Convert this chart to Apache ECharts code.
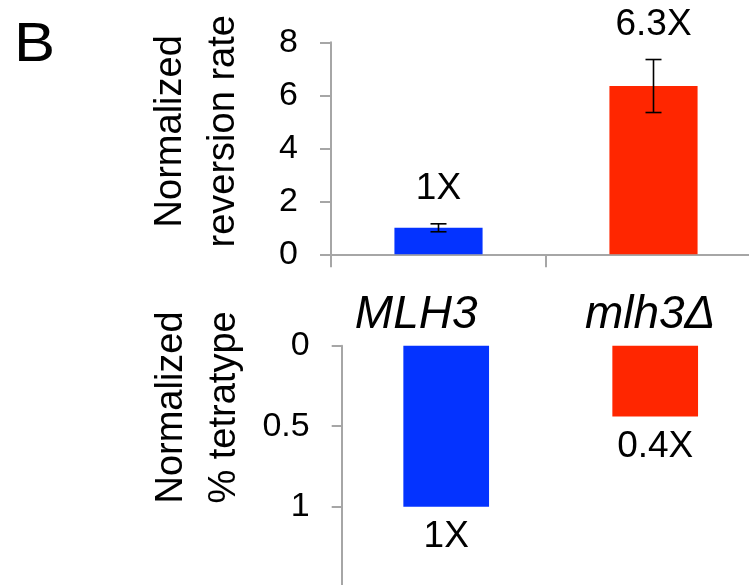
<!DOCTYPE html>
<html>
<head>
<meta charset="utf-8">
<script src="https://cdn.jsdelivr.net/npm/echarts@6/dist/echarts.min.js"></script>
<style>html,body{margin:0;padding:0;background:#fff;}#c{width:749px;height:585px;}</style>
</head>
<body>
<div id="c"></div>
<script>
const categories = ['MLH3', 'mlh3\u0394'];
const reversionRate = [1.0, 6.35];
const reversionErr = [0.15, 1.0];
const reversionLabels = ['1X', '6.3X'];
const tetratype = [1.0, 0.44];
const tetratypeLabels = ['1X', '0.4X'];
const topAxis = { min: 0, max: 8, interval: 2 };
const bottomAxis = { min: 0, max: 1.5, interval: 0.5 };

const FONT = "'Liberation Sans', Arial, sans-serif";
const AXIS_COLOR = '#a6a6a6';
const BLUE = '#0433ff';
const RED = '#ff2600';
const catPad = [60, 10];

const chart = echarts.init(document.getElementById('c'), null, { renderer: 'canvas' });

chart.setOption({
  animation: false,
  backgroundColor: '#fff',
  textStyle: { fontFamily: FONT },
  graphic: [{
    type: 'text', x: 14, y: 18, scaleX: 1.1,
    style: { text: 'B', fontSize: 56, fontFamily: FONT, fill: '#000' }
  }],
  grid: [
    { left: 331, top: 42.3, width: 430, height: 212, containLabel: false, outerBoundsMode: 'none' },
    { left: 341.7, top: 345.7, width: 418, height: 241.5, containLabel: false, outerBoundsMode: 'none' }
  ],
  xAxis: [
    {
      gridIndex: 0, type: 'category', data: categories,
      axisLine: { show: true, lineStyle: { color: AXIS_COLOR, width: 2 } },
      axisTick: { show: true, length: 13, lineStyle: { color: AXIS_COLOR, width: 2 } },
      axisLabel: { show: false }, splitLine: { show: false }
    },
    {
      gridIndex: 1, type: 'category', data: categories, position: 'top',
      axisLine: { show: false }, axisTick: { show: false }, splitLine: { show: false },
      axisLabel: {
        show: true, margin: 6,
        formatter: function (v, i) { return '{c' + i + '|' + v + '}'; },
        rich: {
          c0: { fontSize: 46, fontStyle: 'italic', fontFamily: FONT, color: '#000', lineHeight: 48, padding: [0, catPad[0], 0, 0] },
          c1: { fontSize: 46, fontStyle: 'italic', fontFamily: FONT, color: '#000', lineHeight: 48, padding: [0, catPad[1], 0, 0] }
        }
      }
    }
  ],
  yAxis: [
    {
      gridIndex: 0, type: 'value', min: topAxis.min, max: topAxis.max, interval: topAxis.interval,
      name: 'Normalized\nreversion rate', nameLocation: 'middle', nameRotate: 90, nameGap: 81,
      nameTextStyle: { fontSize: 38, fontFamily: FONT, color: '#000', lineHeight: 53, padding: [0, 0, 0, 34] },
      axisLine: { show: true, lineStyle: { color: AXIS_COLOR, width: 2 } },
      axisTick: { show: true, length: 11, lineStyle: { color: AXIS_COLOR, width: 2 } },
      axisLabel: { fontSize: 34, fontFamily: FONT, color: '#000', margin: 33 },
      splitLine: { show: false }
    },
    {
      gridIndex: 1, type: 'value', inverse: true, min: bottomAxis.min, max: bottomAxis.max, interval: bottomAxis.interval,
      name: 'Normalized\n% tetratype', nameLocation: 'middle', nameRotate: 90, nameGap: 91,
      nameTextStyle: { fontSize: 38, fontFamily: FONT, color: '#000', lineHeight: 53, padding: [0, 0, 0, 118] },
      axisLine: { show: true, lineStyle: { color: AXIS_COLOR, width: 2 } },
      axisTick: { show: true, length: 10, lineStyle: { color: AXIS_COLOR, width: 2 } },
      axisLabel: { fontSize: 34, fontFamily: FONT, color: '#000', margin: 32, showMaxLabel: false },
      splitLine: { show: false }
    }
  ],
  series: [
    {
      type: 'bar', xAxisIndex: 0, yAxisIndex: 0, barWidth: '41%',
      data: reversionRate.map((v, i) => ({ value: v, itemStyle: { color: i === 0 ? BLUE : RED } }))
    },
    {
      type: 'custom', xAxisIndex: 0, yAxisIndex: 0, z: 5,
      data: reversionRate.map((v, i) => [i, v, reversionErr[i]]),
      renderItem: function (params, api) {
        const i = api.value(0), v = api.value(1), e = api.value(2);
        const hi = api.coord([i, v + e]);
        const lo = api.coord([i, v - e]);
        const hw = 8;
        const ls = { stroke: '#000', lineWidth: 1.6 };
        return {
          type: 'group',
          children: [
            { type: 'line', shape: { x1: hi[0], y1: hi[1], x2: lo[0], y2: lo[1] }, style: ls },
            { type: 'line', shape: { x1: hi[0] - hw, y1: hi[1], x2: hi[0] + hw, y2: hi[1] }, style: ls },
            { type: 'line', shape: { x1: lo[0] - hw, y1: lo[1], x2: lo[0] + hw, y2: lo[1] }, style: ls },
            { type: 'text', style: { x: hi[0], y: hi[1] - 35, text: reversionLabels[params.dataIndex], fontSize: 37, fontFamily: FONT, fill: '#000', align: 'center', verticalAlign: 'middle' } }
          ]
        };
      }
    },
    {
      type: 'bar', xAxisIndex: 1, yAxisIndex: 1, barWidth: '41%',
      data: tetratype.map((v, i) => ({ value: v, itemStyle: { color: i === 0 ? BLUE : RED } }))
    },
    {
      type: 'custom', xAxisIndex: 1, yAxisIndex: 1, z: 5,
      data: tetratype.map((v, i) => [i, v]),
      renderItem: function (params, api) {
        const p = api.coord([api.value(0), api.value(1)]);
        return { type: 'text', style: { x: p[0], y: p[1] + 30, text: tetratypeLabels[params.dataIndex], fontSize: 37, fontFamily: FONT, fill: '#000', align: 'center', verticalAlign: 'middle' } };
      }
    }
  ]
});
</script>
</body>
</html>
